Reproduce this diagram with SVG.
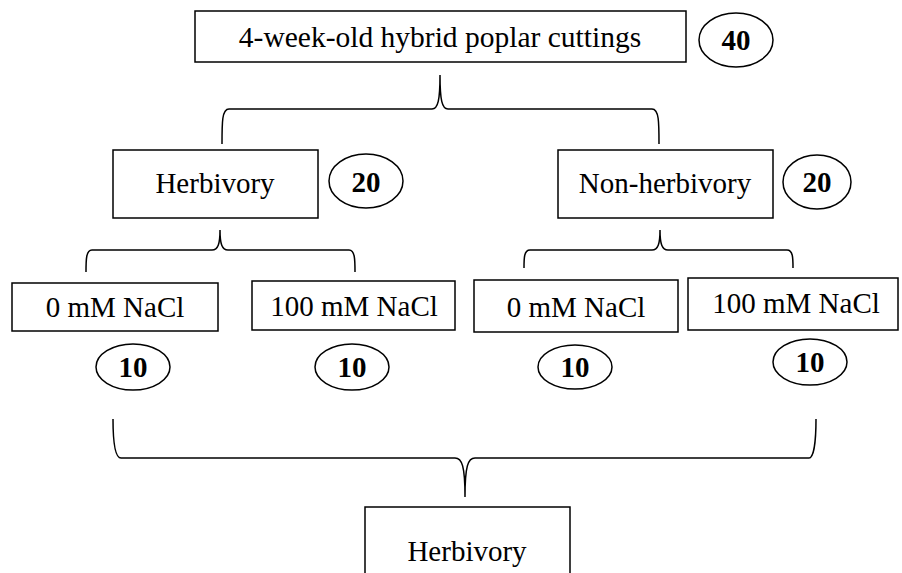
<svg xmlns="http://www.w3.org/2000/svg" width="902" height="573" viewBox="0 0 902 573">
<style>
.box{fill:#fff;stroke:#000;stroke-width:1.5}
.ell{fill:#fff;stroke:#000;stroke-width:1.5}
.t{font-family:"Liberation Serif","Times New Roman",serif;font-size:29px;fill:#000;text-anchor:middle}
.n{font-family:"Liberation Serif","Times New Roman",serif;font-size:29px;font-weight:bold;fill:#000;text-anchor:middle}
.br{fill:none;stroke:#000;stroke-width:1.5}
</style>
<rect width="902" height="573" fill="#fff"/>
<g id="connectors">
<path class="br" d="M222 144 C222 122 222 109 229 109 L432 109 C438 109 440 100 440 75 C440 100 442 109 448 109 L652 109 C659 109 659 122 659 144"/>
<path class="br" d="M86 272 C86 260 86 250 92 250 L212 250 C218 250 220 244 220 230 C220 244 222 250 228 250 L349 250 C355 250 355 260 355 272"/>
<path class="br" d="M524 268 C524 258 524 250 530 250 L652 250 C658 250 660 244 660 230 C660 244 662 250 668 250 L787 250 C793 250 793 258 793 268"/>
<path class="br" d="M113 419 C113 440 115 458 121 458 L455 458 C462 458 465 466 465 497 C465 466 468 458 475 458 L809 458 C814 458 816 440 816 419"/>
</g>
<g id="n_top">
<rect class="box" x="195" y="11" width="491" height="51"/>
<text class="t" x="440" y="47" style="font-size:29.5px">4-week-old hybrid poplar cuttings</text>
</g>
<g id="c_40">
<ellipse class="ell" cx="736" cy="40" rx="37" ry="27"/>
<text class="n" x="736" y="50">40</text>
</g>
<g id="n_herb">
<rect class="box" x="113" y="150" width="205" height="68"/>
<text class="t" x="215" y="193">Herbivory</text>
</g>
<g id="c_20a">
<ellipse class="ell" cx="366" cy="181" rx="37" ry="27"/>
<text class="n" x="366" y="192">20</text>
</g>
<g id="n_nonherb">
<rect class="box" x="558" y="150" width="215" height="68"/>
<text class="t" x="665" y="193">Non-herbivory</text>
</g>
<g id="c_20b">
<ellipse class="ell" cx="817" cy="182" rx="34" ry="27"/>
<text class="n" x="817" y="192">20</text>
</g>
<g id="n_h0">
<rect class="box" x="12" y="283" width="206" height="48"/>
<text class="t" x="115" y="317">0 mM NaCl</text>
</g>
<g id="n_h100">
<rect class="box" x="252" y="281" width="203" height="49"/>
<text class="t" x="354" y="316">100 mM NaCl</text>
</g>
<g id="n_n0">
<rect class="box" x="474" y="280" width="204" height="52"/>
<text class="t" x="576" y="317">0 mM NaCl</text>
</g>
<g id="n_n100">
<rect class="box" x="688" y="278" width="210" height="52"/>
<text class="t" x="796" y="313">100 mM NaCl</text>
</g>
<g id="c_10a">
<ellipse class="ell" cx="133" cy="367" rx="37" ry="23"/>
<text class="n" x="133" y="377">10</text>
</g>
<g id="c_10b">
<ellipse class="ell" cx="352" cy="367" rx="37" ry="23"/>
<text class="n" x="352" y="377">10</text>
</g>
<g id="c_10c">
<ellipse class="ell" cx="575" cy="367" rx="37" ry="22"/>
<text class="n" x="575" y="377">10</text>
</g>
<g id="c_10d">
<ellipse class="ell" cx="810" cy="362" rx="37" ry="23"/>
<text class="n" x="810" y="372">10</text>
</g>
<g id="n_bottom">
<rect class="box" x="365" y="507" width="205" height="80"/>
<text class="t" x="467" y="561">Herbivory</text>
</g>
</svg>
